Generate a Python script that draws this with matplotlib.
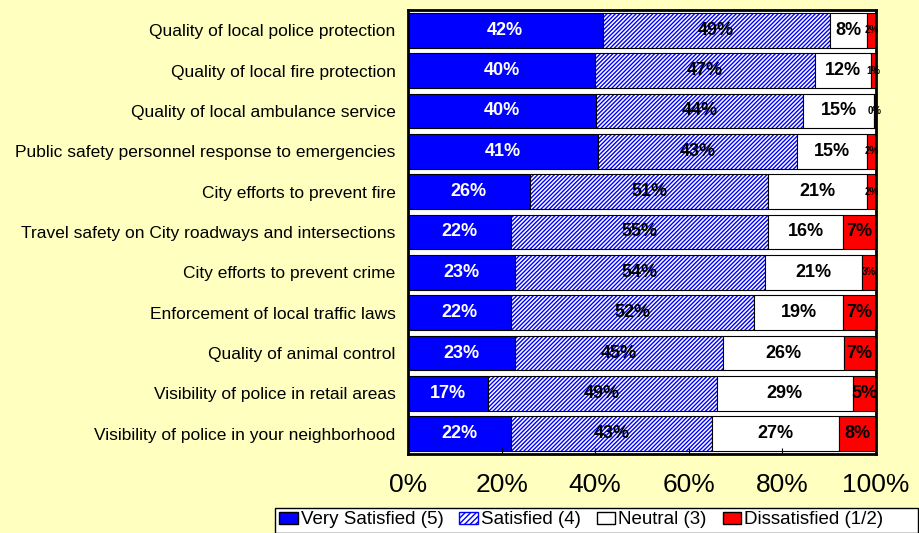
import numpy as np
import matplotlib
matplotlib.use('Agg')
import matplotlib.pyplot as plt
from matplotlib.patches import Patch, Rectangle

plt.rcParams['font.family'] = ['Liberation Sans', 'DejaVu Sans']
plt.rcParams['hatch.linewidth'] = 1.0

categories = [
    'Quality of local police protection',
    'Quality of local fire protection',
    'Quality of local ambulance service',
    'Public safety personnel response to emergencies',
    'City efforts to prevent fire',
    'Travel safety on City roadways and intersections',
    'City efforts to prevent crime',
    'Enforcement of local traffic laws',
    'Quality of animal control',
    'Visibility of police in retail areas',
    'Visibility of police in your neighborhood',
]
very_satisfied = [42, 40, 40, 41, 26, 22, 23, 22, 23, 17, 22]
satisfied = [49, 47, 44, 43, 51, 55, 54, 52, 45, 49, 43]
neutral = [8, 12, 15, 15, 21, 16, 21, 19, 26, 29, 27]
dissatisfied = [2, 1, 0.4, 2, 2, 7, 3, 7, 7, 5, 8]
series_names = ['Very Satisfied (5)', 'Satisfied (4)', 'Neutral (3)', 'Dissatisfied (1/2)']

data = np.array([very_satisfied, satisfied, neutral, dissatisfied], dtype=float)
frac = data / data.sum(axis=0)  # 100% stacked, like Excel

fig = plt.figure(figsize=(9.2, 5.33), dpi=100, facecolor='#FFFFC0')
ax = fig.add_axes([408/920, 1-454/533, 468/920, 444/533])
ax.set_facecolor('white')

y = np.arange(len(categories))
left = np.zeros(len(categories))
fills = ['#0000FF', 'white', 'white', '#FF0000']
for i in range(4):
    if i == 1:
        # blue hatch first, then the black outline on top
        ax.barh(y, frac[i], left=left, height=0.86, facecolor='white',
                edgecolor='#0000FF', hatch='////////', linewidth=0)
        ax.barh(y, frac[i], left=left, height=0.86, facecolor='none',
                edgecolor='black', linewidth=0.8)
    else:
        ax.barh(y, frac[i], left=left, height=0.86, facecolor=fills[i],
                edgecolor='black', linewidth=0.8)
    for j in range(len(categories)):
        cx = left[j] + frac[i, j] / 2
        lab = '%d%%' % round(data[i, j])
        if i == 0:
            ax.text(cx, y[j], lab, ha='center', va='center', color='white',
                    fontsize=13, fontweight='bold')
        elif i == 3 and data[i, j] < 4:
            ax.text(cx, y[j], lab, ha='center', va='center', color='black',
                    fontsize=7, fontweight='bold')
        else:
            ax.text(cx, y[j], lab, ha='center', va='center', color='black',
                    fontsize=13, fontweight='bold')
    left += frac[i]

ax.set_xlim(0, 1)
ax.set_ylim(len(categories) - 0.5, -0.5)
ax.set_yticks(y)
ax.set_yticklabels(categories, fontsize=12.5)
ax.tick_params(axis='y', length=0, pad=9)
ax.set_xticks(np.linspace(0, 1, 6))
ax.set_xticklabels(['0%', '20%', '40%', '60%', '80%', '100%'], fontsize=19)
ax.tick_params(axis='x', direction='in', length=4, pad=14)
for s in ax.spines.values():
    s.set_linewidth(2)

# legend box is wider than its entries, as in Excel
fig.patches.append(Rectangle((275/920, 0.5/533), 643/920, 25/533, transform=fig.transFigure,
                             facecolor='white', edgecolor='black', linewidth=1))
handles = [
    Patch(facecolor='#0000FF', edgecolor='black'),
    Patch(facecolor='white', edgecolor='#0000FF', hatch='//////'),
    Patch(facecolor='white', edgecolor='black'),
    Patch(facecolor='#FF0000', edgecolor='black'),
]
leg = fig.legend(handles, series_names, loc='center left',
                 bbox_to_anchor=(279/920, 13/533),
                 ncol=4, fontsize=13.5, frameon=False, handlelength=1.0,
                 handleheight=0.65, handletextpad=0.15, columnspacing=0.85,
                 borderpad=0, borderaxespad=0)

fig.savefig('out.png', dpi=100, facecolor=fig.get_facecolor())
